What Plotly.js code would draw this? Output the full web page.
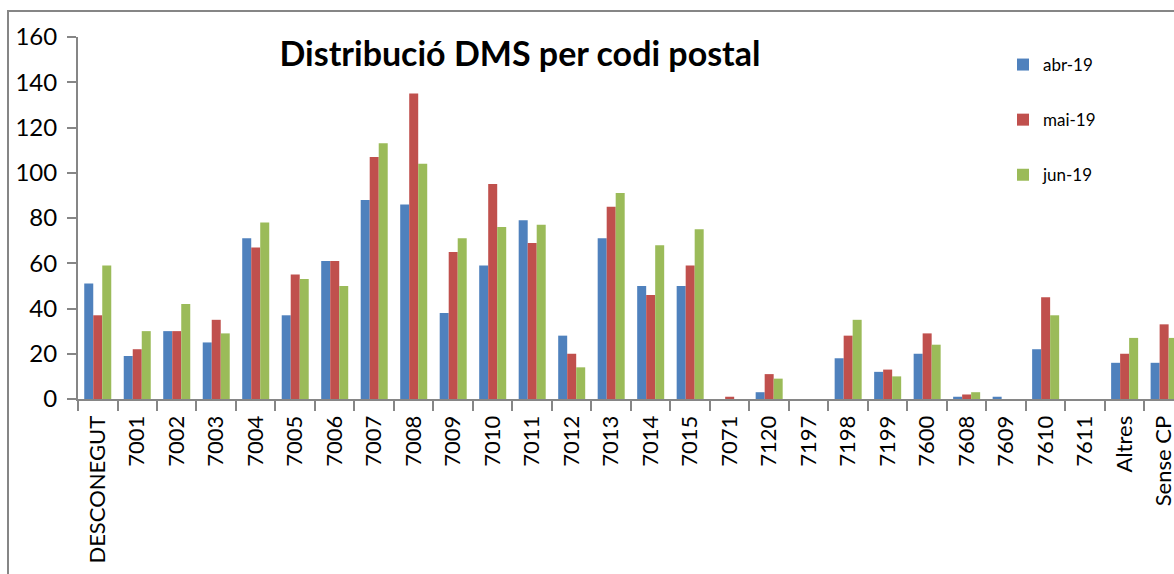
<!DOCTYPE html>
<html>
<head>
<meta charset="utf-8">
<script src="https://cdn.plot.ly/plotly-3.0.1.min.js"></script>
<style>
  html, body { margin: 0; padding: 0; background: #fff; }
  #wrap { position: relative; width: 1174px; height: 574px; overflow: hidden; }
  #chart { position: absolute; left: 0; top: 0; width: 1174px; height: 574px; }
  #frame { position: absolute; left: 7px; top: 10px; width: 1200px; height: 600px;
           border-left: 2px solid #868686; border-top: 2px solid #868686; pointer-events: none; }
</style>
</head>
<body>
<div id="wrap">
  <div id="chart"></div>
  <div id="frame"></div>
</div>
<script>
const categories = ["DESCONEGUT", "7001", "7002", "7003", "7004", "7005", "7006", "7007", "7008", "7009",
  "7010", "7011", "7012", "7013", "7014", "7015", "7071", "7120", "7197", "7198", "7199",
  "7600", "7608", "7609", "7610", "7611", "Altres", "Sense CP"];

const seriesNames = ["abr-19", "mai-19", "jun-19"];

const abr19 = [51, 19, 30, 25, 71, 37, 61, 88, 86, 38, 59, 79, 28, 71, 50, 50, 0, 3, 0, 18, 12, 20, 1, 1, 22, 0, 16, 16];
const mai19 = [37, 22, 30, 35, 67, 55, 61, 107, 135, 65, 95, 69, 20, 85, 46, 59, 1, 11, 0, 28, 13, 29, 2, 0, 45, 0, 20, 33];
const jun19 = [59, 30, 42, 29, 78, 53, 50, 113, 104, 71, 76, 77, 14, 91, 68, 75, 0, 9, 0, 35, 10, 24, 3, 0, 37, 0, 27, 27];

const yTicks = [0, 20, 40, 60, 80, 100, 120, 140, 160];

const colors = ["#4F81BD", "#C0504D", "#9BBB59"];
const values = [abr19, mai19, jun19];

const FONT = "Lato, 'Open Sans', sans-serif";

const traces = values.map((v, i) => ({
  type: "bar",
  name: seriesNames[i],
  x: categories,
  y: v,
  marker: { color: colors[i], line: { width: 0 } },
  legendgroup: "g" + i,
  hoverinfo: "x+y+name"
}));

const layout = {
  width: 1174,
  height: 574,
  margin: { l: 78, r: 0, t: 37, b: 175, pad: 0, autoexpand: false },
  paper_bgcolor: "#ffffff",
  plot_bgcolor: "#ffffff",
  barmode: "group",
  bargap: 0.316,
  bargroupgap: 0,
  showlegend: true,
  title: {
    text: "<b>Distribució DMS per codi postal</b>",
    font: { family: FONT, size: 34, color: "#000000" },
    xref: "container", x: 520 / 1174, xanchor: "center",
    yref: "container", y: 1 - 54 / 574, yanchor: "middle"
  },
  legend: {
    xref: "container", yref: "container",
    x: 1003 / 1174, y: 1 - 47 / 574,
    xanchor: "left", yanchor: "top",
    font: { family: FONT, size: 17, color: "#000000" },
    traceorder: "grouped",
    tracegroupgap: 30,
    bgcolor: "rgba(0,0,0,0)",
    borderwidth: 0
  },
  xaxis: {
    type: "category",
    range: [-0.5, 27.25],
    showline: true, linecolor: "#868686", linewidth: 2,
    ticks: "outside", tickson: "boundaries", ticklen: 10, tickwidth: 2, tickcolor: "#868686",
    tickangle: -90,
    ticklabelstandoff: 6,
    tickfont: { family: FONT, size: 22, color: "#000000" },
    showgrid: false, zeroline: false, fixedrange: true
  },
  yaxis: {
    range: [0, 160],
    tickvals: yTicks,
    ticktext: yTicks.map(String),
    showline: true, linecolor: "#868686", linewidth: 2,
    ticks: "outside", ticklen: 9, tickwidth: 2, tickcolor: "#868686",
    ticklabelstandoff: 5,
    tickfont: { family: FONT, size: 24, color: "#000000" },
    showgrid: false, zeroline: false, fixedrange: true
  }
};

Plotly.newPlot("chart", traces, layout, { displayModeBar: false, staticPlot: true });
</script>
</body>
</html>
